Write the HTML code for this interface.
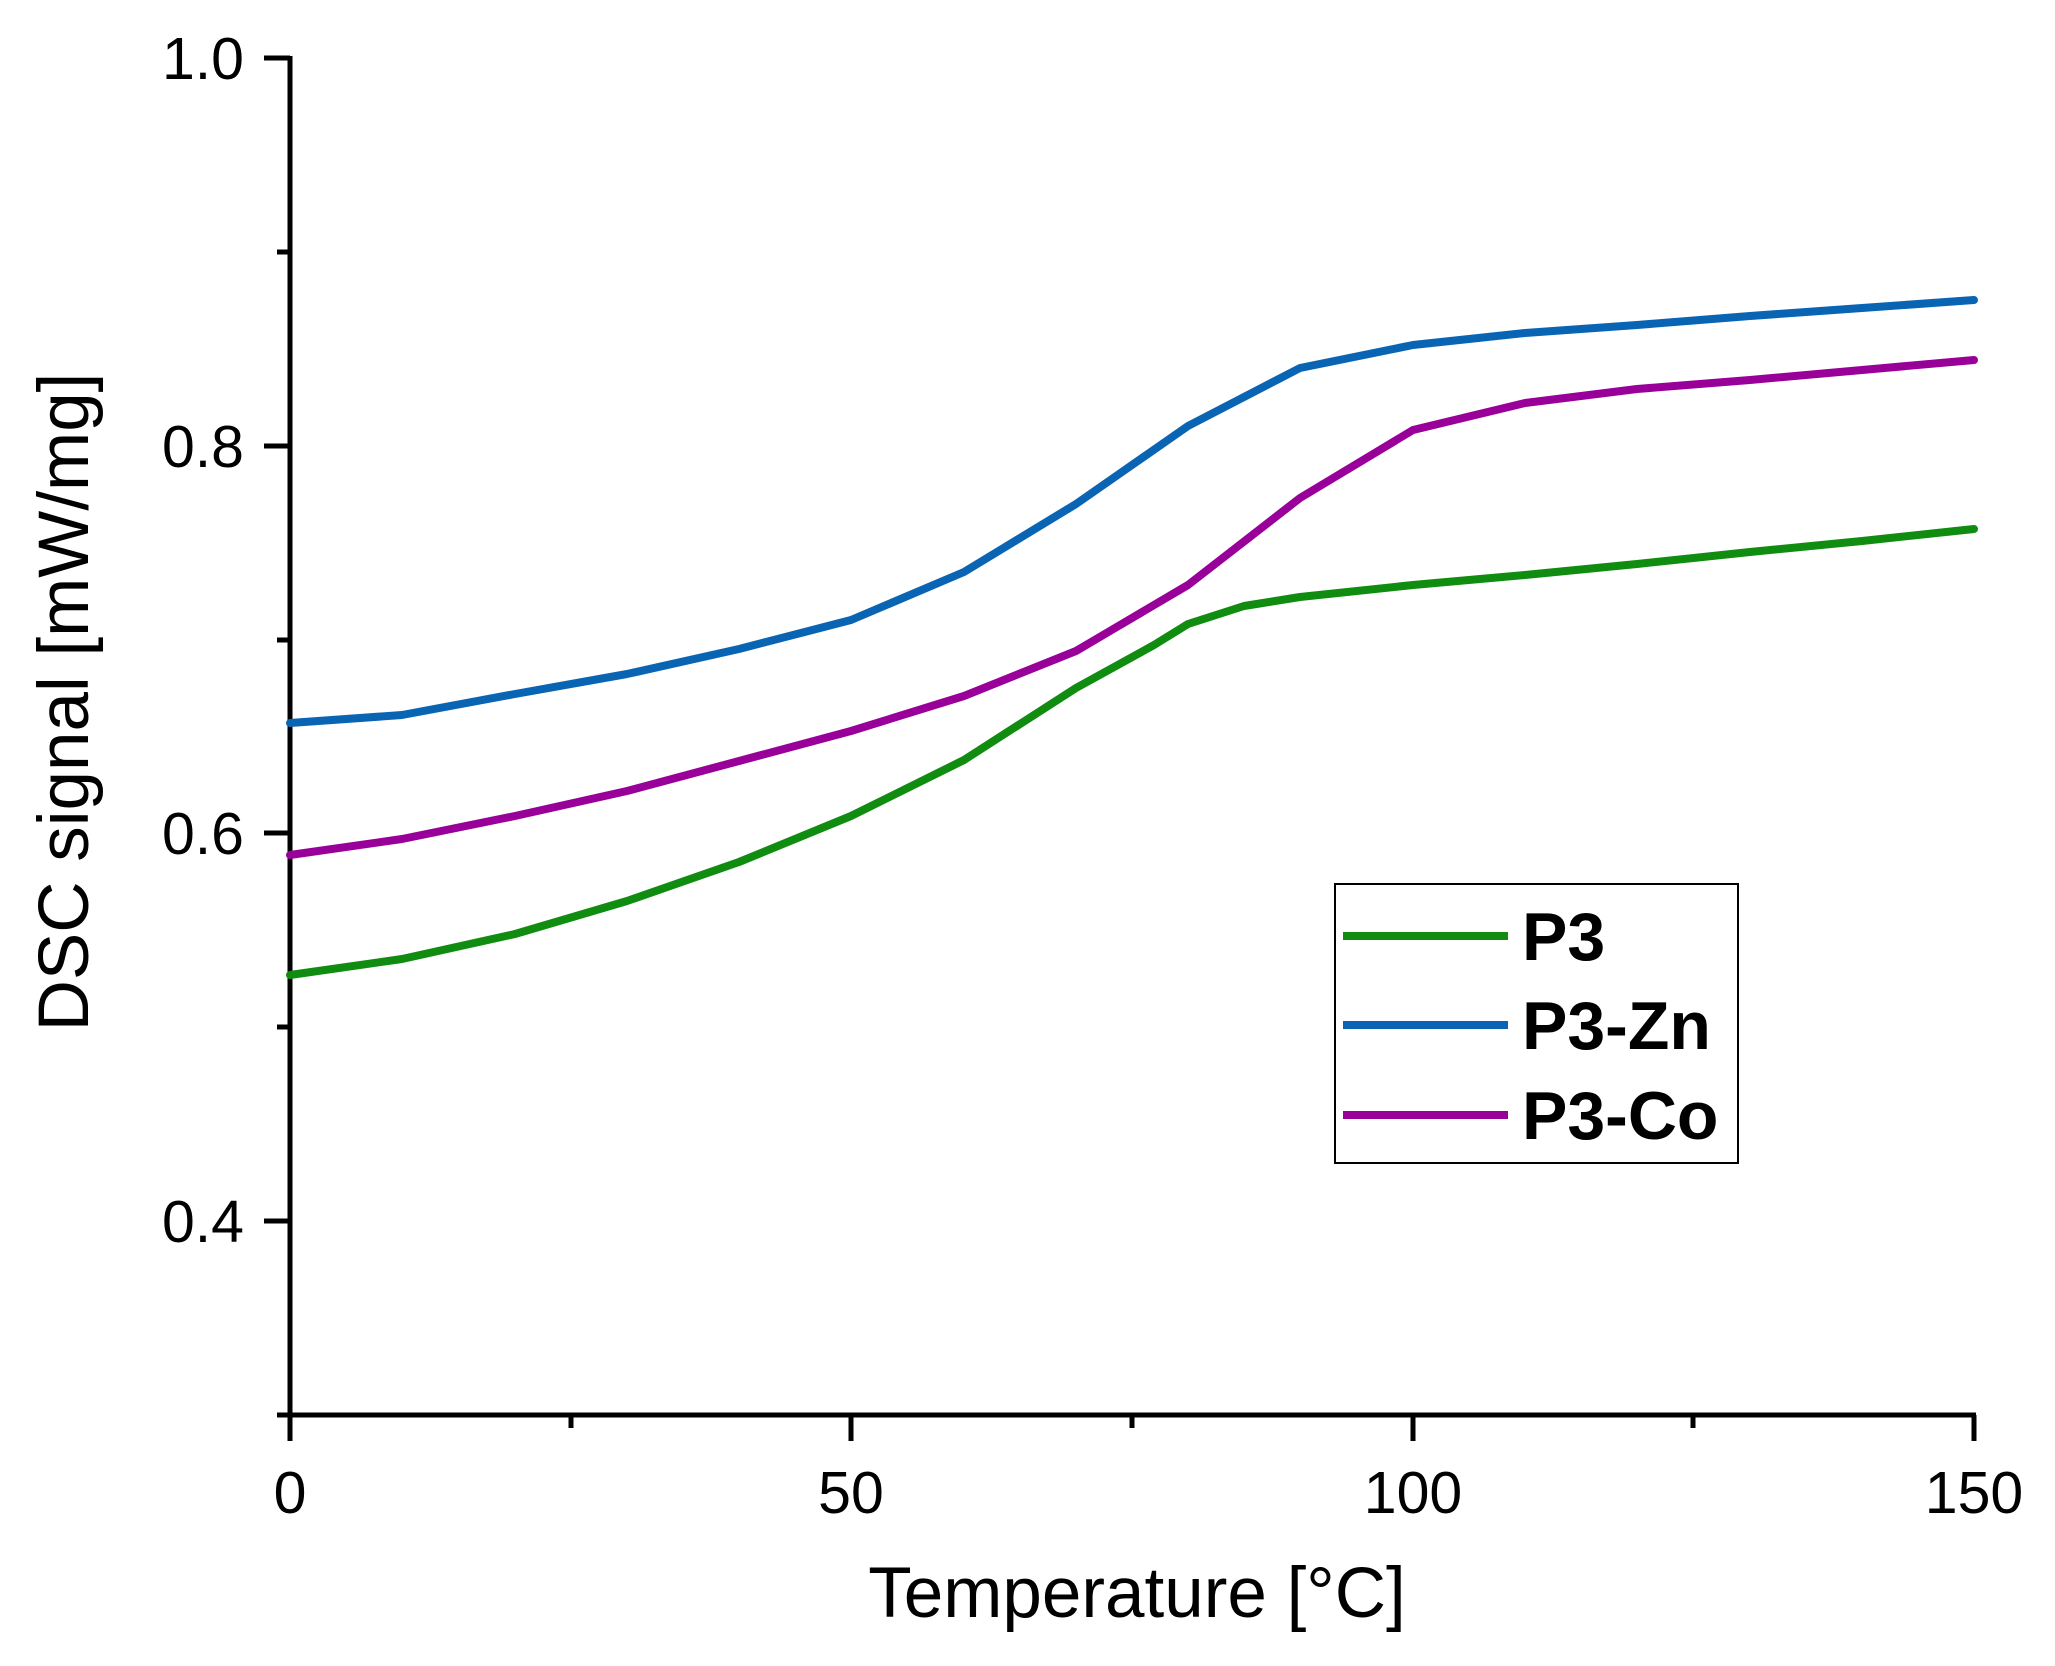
<!DOCTYPE html>
<html><head><style>html,body{margin:0;padding:0;background:#fff}svg{display:block}</style></head>
<body>
<svg width="2055" height="1666" viewBox="0 0 2055 1666" xmlns="http://www.w3.org/2000/svg" font-family="Liberation Sans, sans-serif">
<rect width="2055" height="1666" fill="#fff"/>
<g stroke="#000" stroke-width="5" fill="none">
<line x1="290" y1="56" x2="290" y2="1418"/>
<line x1="288" y1="1415" x2="1976" y2="1415"/>
<line x1="264" y1="58" x2="290" y2="58"/>
<line x1="264" y1="446" x2="290" y2="446"/>
<line x1="264" y1="833" x2="290" y2="833"/>
<line x1="264" y1="1221" x2="290" y2="1221"/>
<line x1="277" y1="252" x2="290" y2="252"/>
<line x1="277" y1="640" x2="290" y2="640"/>
<line x1="277" y1="1027" x2="290" y2="1027"/>
<line x1="277" y1="1415" x2="290" y2="1415"/>
<line x1="290" y1="1415" x2="290" y2="1441"/>
<line x1="851" y1="1415" x2="851" y2="1441"/>
<line x1="1413" y1="1415" x2="1413" y2="1441"/>
<line x1="1974" y1="1415" x2="1974" y2="1441"/>
<line x1="571" y1="1415" x2="571" y2="1428"/>
<line x1="1132" y1="1415" x2="1132" y2="1428"/>
<line x1="1693" y1="1415" x2="1693" y2="1428"/>
</g>
<g font-size="59" text-anchor="end" fill="#000">
<text x="244" y="79">1.0</text>
<text x="244" y="467">0.8</text>
<text x="244" y="854">0.6</text>
<text x="244" y="1242">0.4</text>
</g>
<g font-size="59" text-anchor="middle" fill="#000">
<text x="290" y="1513">0</text>
<text x="851" y="1513">50</text>
<text x="1413" y="1513">100</text>
<text x="1974" y="1513">150</text>
</g>
<text x="1137" y="1617" font-size="71" text-anchor="middle">Temperature [°C]</text>
<text transform="translate(88,702) rotate(-90)" font-size="71" text-anchor="middle">DSC signal [mW/mg]</text>
<g fill="none" stroke-width="8" stroke-linejoin="round" stroke-linecap="round">
<polyline stroke="#0a64b4" points="290,723 402,715 515,694 627,674 739,649 851,620 964,572 1076,504 1188,426 1300,368 1413,345 1525,333 1637,325 1750,316 1862,308 1974,300"/>
<polyline stroke="#990099" points="290,855 402,839 515,816 627,791 739,761 851,731 964,696 1076,651 1188,585 1300,498 1413,430 1525,403 1637,389 1750,380 1862,370 1974,360"/>
<polyline stroke="#108c10" points="290,975 402,959 515,934 627,901 739,862 851,816 964,760 1076,688 1154,645 1188,624 1244,606 1300,597 1413,585 1525,575 1637,564 1750,552 1862,541 1974,529"/>
</g>
<rect x="1335" y="884" width="403" height="279" fill="#fff" stroke="#000" stroke-width="2"/>
<g stroke-width="8">
<line x1="1343" y1="936" x2="1508" y2="936" stroke="#108c10"/>
<line x1="1343" y1="1025" x2="1508" y2="1025" stroke="#0a64b4"/>
<line x1="1343" y1="1115" x2="1508" y2="1115" stroke="#990099"/>
</g>
<g font-size="68" font-weight="bold" fill="#000">
<text x="1522" y="960">P3</text>
<text x="1522" y="1049">P3-Zn</text>
<text x="1522" y="1139">P3-Co</text>
</g>
</svg>
</body></html>
